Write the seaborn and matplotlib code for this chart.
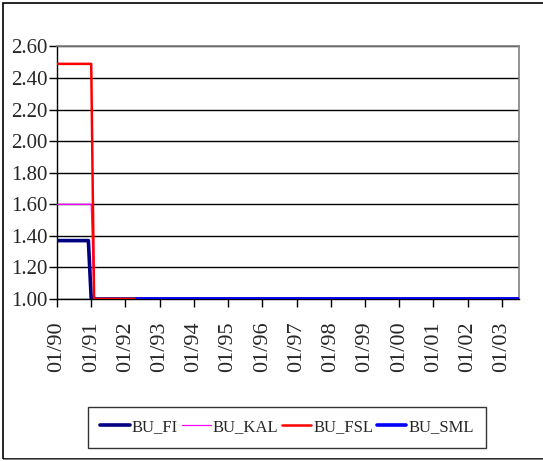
import numpy as np
import pandas as pd
import matplotlib
matplotlib.use("Agg")
import matplotlib.pyplot as plt
import seaborn as sns
from matplotlib.lines import Line2D
from matplotlib.patches import Rectangle

# Monthly index ratios, 01/1990 .. 07/2003
n_months = 163
months = np.arange(n_months)

series_names = ["BU_FI", "BU_KAL", "BU_FSL", "BU_SML"]
series_colors = ["#000080", "#FF00FF", "#FF0000", "#0000FF"]
series_widths = [2.6, 0.9, 1.8, 2.6]

# level before the 1991 break, months holding that level, later level
fi_before, fi_months = 1.37, 12
kal_before, kal_months = 1.60, 13
fsl_before, fsl_months = 2.49, 13
after_level = 1.00
sml_first_month = 28

bu_fi = [fi_before] * fi_months + [after_level] * (n_months - fi_months)
bu_kal = [kal_before] * kal_months + [after_level] * (n_months - kal_months)
bu_fsl = [fsl_before] * fsl_months + [after_level] * (n_months - fsl_months)
bu_sml = [np.nan] * sml_first_month + [after_level] * (n_months - sml_first_month)

tick_months = list(range(0, n_months, 12))
tick_labels = ["01/90", "01/91", "01/92", "01/93", "01/94", "01/95", "01/96",
               "01/97", "01/98", "01/99", "01/00", "01/01", "01/02", "01/03"]
y_ticks = [1.00, 1.20, 1.40, 1.60, 1.80, 2.00, 2.20, 2.40, 2.60]

df = pd.DataFrame({"month": months, "BU_FI": bu_fi, "BU_KAL": bu_kal,
                   "BU_FSL": bu_fsl, "BU_SML": bu_sml})

sns.set_theme(style="white")
plt.rcParams["font.family"] = ["Liberation Serif", "DejaVu Serif"]

W, H = 543, 461
fig = plt.figure(figsize=(W / 100, H / 100), dpi=100)
ax = fig.add_axes([57 / W, 1 - 299 / H, (519 - 57) / W, (299 - 46.5) / H])

for name, col, lw in zip(series_names, series_colors, series_widths):
    sub = df[["month", name]].dropna()
    sns.lineplot(data=sub, x="month", y=name, color=col, linewidth=lw,
                 ax=ax, legend=False, zorder=3)

ax.set_xlim(0, n_months - 1)
ax.set_ylim(1.0, 2.6)
ax.set_xticks(tick_months)
ax.set_xticklabels(tick_labels, rotation=90, fontsize=16)
ax.set_yticks(y_ticks)
ax.set_yticklabels([f"{v:.2f}" for v in y_ticks], fontsize=15)
ax.set_xlabel("")
ax.set_ylabel("")
ax.tick_params(axis="x", direction="out", length=6, width=1, color="black",
               pad=10, bottom=True)
ax.tick_params(axis="y", direction="out", length=6, width=1, color="black",
               pad=1, left=True)
ax.yaxis.grid(True, color="black", linewidth=1)
ax.set_axisbelow(True)
for side in ["left", "bottom"]:
    ax.spines[side].set_color("black")
    ax.spines[side].set_linewidth(1)
for side in ["top", "right"]:
    ax.spines[side].set_color("#808080")
    ax.spines[side].set_linewidth(1.2)

handles = [Line2D([0], [0], color=c, linewidth=lw)
           for c, lw in zip(series_colors, series_widths)]
leg = fig.legend(handles, series_names, ncol=4, loc="center",
                 bbox_to_anchor=((97 + 477) / 2 / W, 1 - 427 / H),
                 fontsize=12, frameon=True, fancybox=False,
                 handlelength=1.75, handletextpad=0.1, columnspacing=0.25,
                 borderpad=0.75, borderaxespad=0)
leg.get_frame().set_edgecolor("black")
leg.get_frame().set_linewidth(1)

# outer chart-area border
fig.patches.append(Rectangle((3 / W, 2.5 / H), 1.2, 1 - 5.5 / H,
                             transform=fig.transFigure, fill=False,
                             edgecolor="black", linewidth=1.2))
fig.patches.append(Rectangle((3 / W, 1 / H), 1.2, 1.5 / H,
                             transform=fig.transFigure, fill=True,
                             facecolor="#808080", edgecolor="none"))

fig.savefig("out.png", dpi=100)
